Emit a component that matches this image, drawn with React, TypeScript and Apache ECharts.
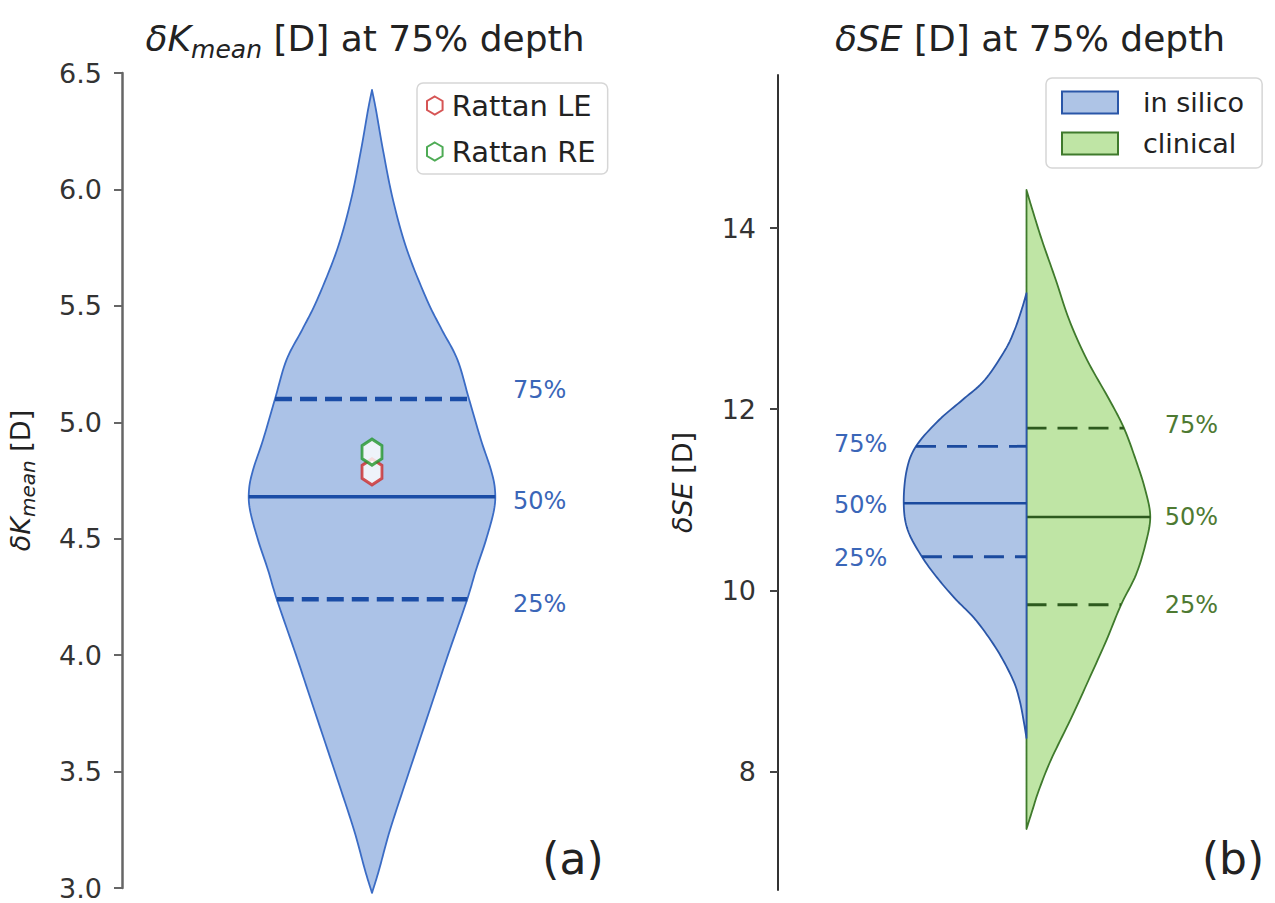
import React, { useEffect, useRef } from "react";
import * as echarts from "echarts";

const FONT = "DejaVu Sans";

// ---------- Panel (a): δK_mean violin ----------
const kmeanY = [6.427, 6.341, 6.169, 5.955, 5.74, 5.525, 5.396, 5.268, 5.1, 4.924, 4.795, 4.709, 4.623, 4.495, 4.366, 4.237, 4.001, 3.807, 3.498, 3.249, 3.077, 2.979];
const kmeanW = [0, 0.008, 0.022, 0.042, 0.07, 0.11, 0.14, 0.171, 0.194, 0.218, 0.238, 0.246, 0.244, 0.228, 0.208, 0.19, 0.152, 0.122, 0.074, 0.036, 0.014, 0];
const kmeanQuartiles = [4.24, 4.68, 5.1];
const kmeanLabelY = [4.22, 4.66, 5.14];
const kmeanTicks = [3.0, 3.5, 4.0, 4.5, 5.0, 5.5, 6.0, 6.5];
const rattanLE = [4.787];
const rattanRE = [4.872];

// ---------- Panel (b): δSE split violin ----------
const silicoY = [13.282, 13.095, 12.874, 12.653, 12.322, 12.101, 11.88, 11.593, 11.328, 10.963, 10.665, 10.367, 10.113, 9.892, 9.671, 9.34, 9.009, 8.788, 8.567, 8.368];
const silicoW = [0, 0.01, 0.024, 0.043, 0.084, 0.129, 0.176, 0.222, 0.241, 0.247, 0.239, 0.21, 0.176, 0.141, 0.102, 0.059, 0.027, 0.014, 0.006, 0];
const clinicalY = [14.42, 14.199, 13.867, 13.426, 12.984, 12.542, 12.101, 11.792, 11.438, 11.107, 10.809, 10.5, 10.168, 9.837, 9.45, 9.009, 8.567, 8.125, 7.794, 7.573, 7.364];
const clinicalW = [0, 0.012, 0.031, 0.059, 0.086, 0.122, 0.167, 0.196, 0.22, 0.239, 0.249, 0.239, 0.22, 0.19, 0.161, 0.125, 0.088, 0.049, 0.025, 0.012, 0];
const silicoQuartiles = [10.37, 10.96, 11.59];
const clinicalQuartiles = [9.84, 10.81, 11.79];
const silicoLabelY = [10.355, 10.94, 11.615];
const clinicalLabelY = [9.837, 10.81, 11.825];
const seTicks = [8, 10, 12, 14];

const quartileNames = ["25%", "50%", "75%"];

const HEX = "path://M0,-10 L8.66,-5 L8.66,5 L0,10 L-8.66,5 L-8.66,-5 Z";

// Catmull-Rom smoothing of an outline given in pixel space
function smoothOutline(pts: number[][], n: number, cx: number): number[][] {
  const out: number[][] = [];
  const L = pts.length;
  for (let i = 0; i < L - 1; i++) {
    const p0 = pts[Math.max(i - 1, 0)];
    const p1 = pts[i];
    const p2 = pts[i + 1];
    const p3 = pts[Math.min(i + 2, L - 1)];
    for (let s = 0; s < n; s++) {
      const t = s / n;
      const t2 = t * t;
      const t3 = t2 * t;
      const f = (a: number, b: number, c: number, d: number) =>
        0.5 * (2 * b + (-a + c) * t + (2 * a - 5 * b + 4 * c - d) * t2 + (-a + 3 * b - 3 * c + d) * t3);
      let x = f(p0[0], p1[0], p2[0], p3[0]);
      const y = f(p0[1], p1[1], p2[1], p3[1]);
      if (x < cx) x = cx;
      out.push([x, y]);
    }
  }
  out.push(pts[L - 1]);
  return out;
}

function halfAt(poly: number[][], py: number, cx: number) {
  for (let i = 0; i < poly.length - 1; i++) {
    const a = poly[i], b = poly[i + 1];
    if ((a[1] <= py && py <= b[1]) || (a[1] >= py && py >= b[1])) {
      const t = b[1] === a[1] ? 0 : (py - a[1]) / (b[1] - a[1]);
      return a[0] + t * (b[0] - a[0]) - cx;
    }
  }
  return 0;
}

type ViolinCfg = {
  ys: number[];
  ws: number[];
  side: "both" | "left" | "right";
  fill: string;
  stroke: string;
  lineWidth: number;
  quartiles: number[];
  qColor: string;
  qWidth: number;
  medWidth: number;
  dash: number[];
  labelY: number[];
  labelX: number;
  labelColor: string;
  labelAlign: string;
};

function makeViolin(c: ViolinCfg) {
  return (params: any, api: any) => {
    const cx = api.coord([0, c.ys[0]])[0];
    const raw = c.ys.map((y, i) => api.coord([c.ws[i], y]));
    const right = smoothOutline(raw, 10, cx);
    const left = right.map((p) => [2 * cx - p[0], p[1]]);
    let pts: number[][];
    if (c.side === "both") pts = right.concat(left.slice().reverse());
    else if (c.side === "left") pts = left;
    else pts = right;
    const children: any[] = [
      {
        type: "polygon",
        shape: { points: pts },
        style: { fill: c.fill, stroke: c.stroke, lineWidth: c.lineWidth, lineJoin: "round" },
      },
    ];
    c.quartiles.forEach((q, k) => {
      const py = api.coord([0, q])[1];
      const h = halfAt(right, py, cx);
      const xa = c.side === "right" ? cx : cx - h;
      const xb = c.side === "left" ? cx : cx + h;
      children.push({
        type: "line",
        shape: { x1: xa, y1: py, x2: xb, y2: py },
        style: {
          stroke: c.qColor,
          lineWidth: k === 1 ? c.medWidth : c.qWidth,
          lineDash: k === 1 ? null : c.dash,
        },
      });
      const lp = api.coord([c.labelX, c.labelY[k]]);
      children.push({
        type: "text",
        x: lp[0],
        y: lp[1],
        style: {
          text: quartileNames[k],
          fill: c.labelColor,
          fontSize: 24,
          fontFamily: FONT,
          align: c.labelAlign,
          verticalAlign: "middle",
        },
      });
    });
    return { type: "group", children };
  };
}

function buildOption(): any {
  return {
    animation: false,
    backgroundColor: "#ffffff",
    grid: [
      { left: 122, top: 73, width: 500, height: 815 },
      { left: 778, top: 75, width: 510, height: 815 },
    ],
    xAxis: [
      { gridIndex: 0, type: "value", min: -0.5, max: 0.5, show: false },
      { gridIndex: 1, type: "value", min: -0.5, max: 0.5, show: false },
    ],
    yAxis: [
      {
        gridIndex: 0,
        type: "value",
        min: 3.0,
        max: 6.5,
        interval: 0.5,
        splitLine: { show: false },
        axisLine: { show: true, onZero: false, lineStyle: { color: "#666", width: 2.5 } },
        axisTick: { show: true, length: 8, lineStyle: { color: "#666", width: 2 }, customValues: kmeanTicks },
        axisLabel: {
          customValues: kmeanTicks,
          fontSize: 27,
          fontFamily: FONT,
          color: "#333",
          margin: 20,
          formatter: (v: number) => v.toFixed(1),
        },
        name: "{i|δK}{s|mean}{n| [D]}",
        nameLocation: "middle",
        nameRotate: 90,
        nameGap: 84,
        nameTextStyle: {
          fontSize: 27,
          fontFamily: FONT,
          color: "#222",
          lineHeight: 36,
          rich: {
            i: { fontStyle: "italic", fontSize: 27, fontFamily: FONT, color: "#222", lineHeight: 36 },
            s: { fontStyle: "italic", fontSize: 20, fontFamily: FONT, color: "#222", lineHeight: 20, verticalAlign: "bottom" },
            n: { fontSize: 27, fontFamily: FONT, color: "#222", lineHeight: 36 },
          },
        },
      },
      {
        gridIndex: 1,
        type: "value",
        min: 6.69,
        max: 15.69,
        splitLine: { show: false },
        axisLine: { show: true, onZero: false, lineStyle: { color: "#333", width: 2 } },
        axisTick: { show: true, length: 8, lineStyle: { color: "#444", width: 2 }, customValues: seTicks },
        axisLabel: {
          customValues: seTicks,
          fontSize: 27,
          fontFamily: FONT,
          color: "#333",
          margin: 22,
        },
        name: "{i|δSE}{n| [D]}",
        nameLocation: "middle",
        nameRotate: 90,
        nameGap: 82,
        nameTextStyle: {
          fontSize: 27,
          fontFamily: FONT,
          color: "#222",
          rich: {
            i: { fontStyle: "italic", fontSize: 27, fontFamily: FONT, color: "#222" },
            n: { fontSize: 27, fontFamily: FONT, color: "#222" },
          },
        },
      },
    ],
    legend: [
      {
        orient: "vertical",
        left: 417,
        top: 83,
        padding: [8, 12, 8, 9],
        itemGap: 17,
        itemWidth: 16,
        itemHeight: 18,
        backgroundColor: "#fff",
        borderColor: "#d6d6d6",
        borderWidth: 1.5,
        borderRadius: 6,
        textStyle: { fontSize: 29, fontFamily: FONT, color: "#222", padding: [0, 0, 0, 4] },
        data: ["Rattan LE", "Rattan RE"],
      },
      {
        orient: "vertical",
        left: 1046,
        top: 78,
        padding: [11, 18, 11, 15],
        itemGap: 14,
        itemWidth: 56,
        itemHeight: 22,
        backgroundColor: "#fff",
        borderColor: "#d6d6d6",
        borderWidth: 1.5,
        borderRadius: 6,
        textStyle: { fontSize: 27, fontFamily: FONT, color: "#222", padding: [0, 0, 0, 20] },
        data: [
          { name: "in silico", icon: "rect", itemStyle: { color: "#aec4e6", borderColor: "#2a56a8", borderWidth: 2 } },
          { name: "clinical", icon: "rect", itemStyle: { color: "#bfe5a5", borderColor: "#3f7a2c", borderWidth: 2 } },
        ],
      },
    ],
    graphic: [
      {
        type: "text",
        x: 365,
        y: 38,
        style: {
          text: "{i|δK}{s|mean}{n| [D] at 75% depth}",
          align: "center",
          verticalAlign: "middle",
          fill: "#222",
          fontSize: 36,
          fontFamily: FONT,
          rich: {
            i: { fontStyle: "italic", fontSize: 36, fontFamily: FONT, fill: "#222", lineHeight: 48 },
            s: { fontStyle: "italic", fontSize: 25, fontFamily: FONT, fill: "#222", lineHeight: 25, verticalAlign: "bottom" },
            n: { fontSize: 36, fontFamily: FONT, fill: "#222", lineHeight: 48 },
          },
        },
      },
      {
        type: "text",
        x: 1030,
        y: 38,
        style: {
          text: "{i|δSE}{n| [D] at 75% depth}",
          align: "center",
          verticalAlign: "middle",
          fill: "#222",
          fontSize: 36,
          fontFamily: FONT,
          rich: {
            i: { fontStyle: "italic", fontSize: 36, fontFamily: FONT, fill: "#222" },
            n: { fontSize: 36, fontFamily: FONT, fill: "#222" },
          },
        },
      },
      {
        type: "text",
        x: 573,
        y: 858,
        style: { text: "(a)", align: "center", verticalAlign: "middle", fill: "#222", fontSize: 44, fontFamily: FONT },
      },
      {
        type: "text",
        x: 1233,
        y: 858,
        style: { text: "(b)", align: "center", verticalAlign: "middle", fill: "#222", fontSize: 44, fontFamily: FONT },
      },
    ],
    series: [
      {
        name: "δK_mean",
        type: "custom",
        xAxisIndex: 0,
        yAxisIndex: 0,
        data: [[0, kmeanQuartiles[1]]],
        clip: false,
        renderItem: makeViolin({
          ys: kmeanY,
          ws: kmeanW,
          side: "both",
          fill: "#abc2e7",
          stroke: "#3b6cc5",
          lineWidth: 1.8,
          quartiles: kmeanQuartiles,
          qColor: "#1a4ca6",
          qWidth: 4.5,
          medWidth: 3.5,
          dash: [17, 8],
          labelY: kmeanLabelY,
          labelX: 0.282,
          labelColor: "#3a66b8",
          labelAlign: "left",
        }),
        z: 2,
      },
      {
        name: "clinical",
        type: "custom",
        xAxisIndex: 1,
        yAxisIndex: 1,
        data: [[0, clinicalQuartiles[1]]],
        clip: false,
        itemStyle: { color: "#bfe5a5" },
        renderItem: makeViolin({
          ys: clinicalY,
          ws: clinicalW,
          side: "right",
          fill: "#bfe5a5",
          stroke: "#3f7a2c",
          lineWidth: 1.8,
          quartiles: clinicalQuartiles,
          qColor: "#2d5a1e",
          qWidth: 2.8,
          medWidth: 2.5,
          dash: [20, 11],
          labelY: clinicalLabelY,
          labelX: 0.278,
          labelColor: "#4e7a32",
          labelAlign: "left",
        }),
        z: 2,
      },
      {
        name: "in silico",
        type: "custom",
        xAxisIndex: 1,
        yAxisIndex: 1,
        data: [[0, silicoQuartiles[1]]],
        clip: false,
        itemStyle: { color: "#aec4e6" },
        renderItem: makeViolin({
          ys: silicoY,
          ws: silicoW,
          side: "left",
          fill: "#aec4e6",
          stroke: "#2a56a8",
          lineWidth: 1.8,
          quartiles: silicoQuartiles,
          qColor: "#1b4a9e",
          qWidth: 2.8,
          medWidth: 2.5,
          dash: [20, 11],
          labelY: silicoLabelY,
          labelX: -0.28,
          labelColor: "#3a66b8",
          labelAlign: "right",
        }),
        z: 3,
      },
      {
        name: "Rattan LE",
        type: "scatter",
        xAxisIndex: 0,
        yAxisIndex: 0,
        data: rattanLE.map((v) => [0, v]),
        symbol: HEX,
        symbolSize: [23, 26],
        symbolKeepAspect: true,
        itemStyle: { color: "#ffffff", borderColor: "#cc2a2a", borderWidth: 3 },
        z: 5,
      },
      {
        name: "Rattan RE",
        type: "scatter",
        xAxisIndex: 0,
        yAxisIndex: 0,
        data: rattanRE.map((v) => [0, v]),
        symbol: HEX,
        symbolSize: [23, 26],
        symbolKeepAspect: true,
        itemStyle: { color: "#ffffff", borderColor: "#22962a", borderWidth: 3 },
        z: 6,
      },
    ],
  };
}

export default function App() {
  const ref = useRef<HTMLDivElement>(null);
  useEffect(() => {
    if (!ref.current) return;
    const chart = echarts.init(ref.current, null, { renderer: "svg" });
    chart.setOption(buildOption());
    return () => {
      chart.dispose();
    };
  }, []);
  return (
    <div
      ref={ref}
      style={{ position: "fixed", left: 0, top: 0, width: 1275, height: 903, background: "#fff" }}
    />
  );
}
